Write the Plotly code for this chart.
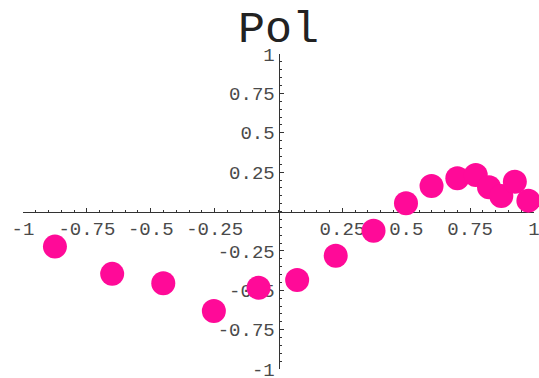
import plotly.graph_objects as go

# Polarisation values sampled across [-1, 1]
x_vals = [-0.875, -0.651, -0.451, -0.253, -0.078, 0.073, 0.224, 0.372,
          0.499, 0.599, 0.700, 0.772, 0.824, 0.872, 0.925, 0.978]
y_vals = [-0.223, -0.396, -0.455, -0.632, -0.484, -0.435, -0.281, -0.122,
          0.052, 0.162, 0.211, 0.232, 0.154, 0.098, 0.189, 0.069]

x_ticks = [-1, -0.75, -0.5, -0.25, 0.25, 0.5, 0.75, 1]
x_tick_text = ["-1", "-0.75", "-0.5", "-0.25", "0.25", "0.5", "0.75", "1"]
y_ticks = [-1, -0.75, -0.5, -0.25, 0.25, 0.5, 0.75, 1]
y_tick_text = ["-1", "-0.75", "-0.5", "-0.25", "0.25", "0.5", "0.75", "1"]

MONO = "Liberation Mono, Courier New, monospace"
AXIS_COLOR = "#333333"
POINT_COLOR = "#FF0A98"

fig = go.Figure(
    go.Scatter(
        x=x_vals,
        y=y_vals,
        mode="markers",
        marker=dict(size=24, color=POINT_COLOR, line=dict(width=0)),
        cliponaxis=False,
        hoverinfo="x+y",
    )
)

axis_common = dict(
    showgrid=False,
    zeroline=False,
    showline=True,
    linecolor=AXIS_COLOR,
    linewidth=1,
    ticks="inside",
    ticklen=4,
    tickwidth=1,
    tickcolor=AXIS_COLOR,
    tickfont=dict(family=MONO, size=19, color="#4a4a4a"),
    ticklabeloverflow="allow",
    layer="below traces",
    anchor="free",
    position=0.5,
    automargin=False,
    fixedrange=True,
    minor=dict(ticks="inside", ticklen=2, tickwidth=1, tickcolor=AXIS_COLOR,
               tickmode="linear", tick0=0, dtick=0.05),
)

fig.update_layout(
    width=539,
    height=378,
    margin=dict(l=23, r=5, t=54, b=9),
    paper_bgcolor="white",
    plot_bgcolor="white",
    showlegend=False,
    title=dict(
        text="Pol",
        font=dict(family=MONO, size=45, color="#222222"),
        x=0.5,
        xref="paper",
        xanchor="center",
        y=1 - 26 / 378,
        yref="container",
        yanchor="middle",
    ),
    xaxis=dict(
        range=[-1, 1],
        tickmode="array",
        tickvals=x_ticks,
        ticktext=x_tick_text,
        side="bottom",
        **axis_common,
    ),
    yaxis=dict(
        range=[-1, 1],
        tickmode="array",
        tickvals=y_ticks,
        ticktext=y_tick_text,
        side="left",
        **axis_common,
    ),
)

fig.write_html("out.html")
